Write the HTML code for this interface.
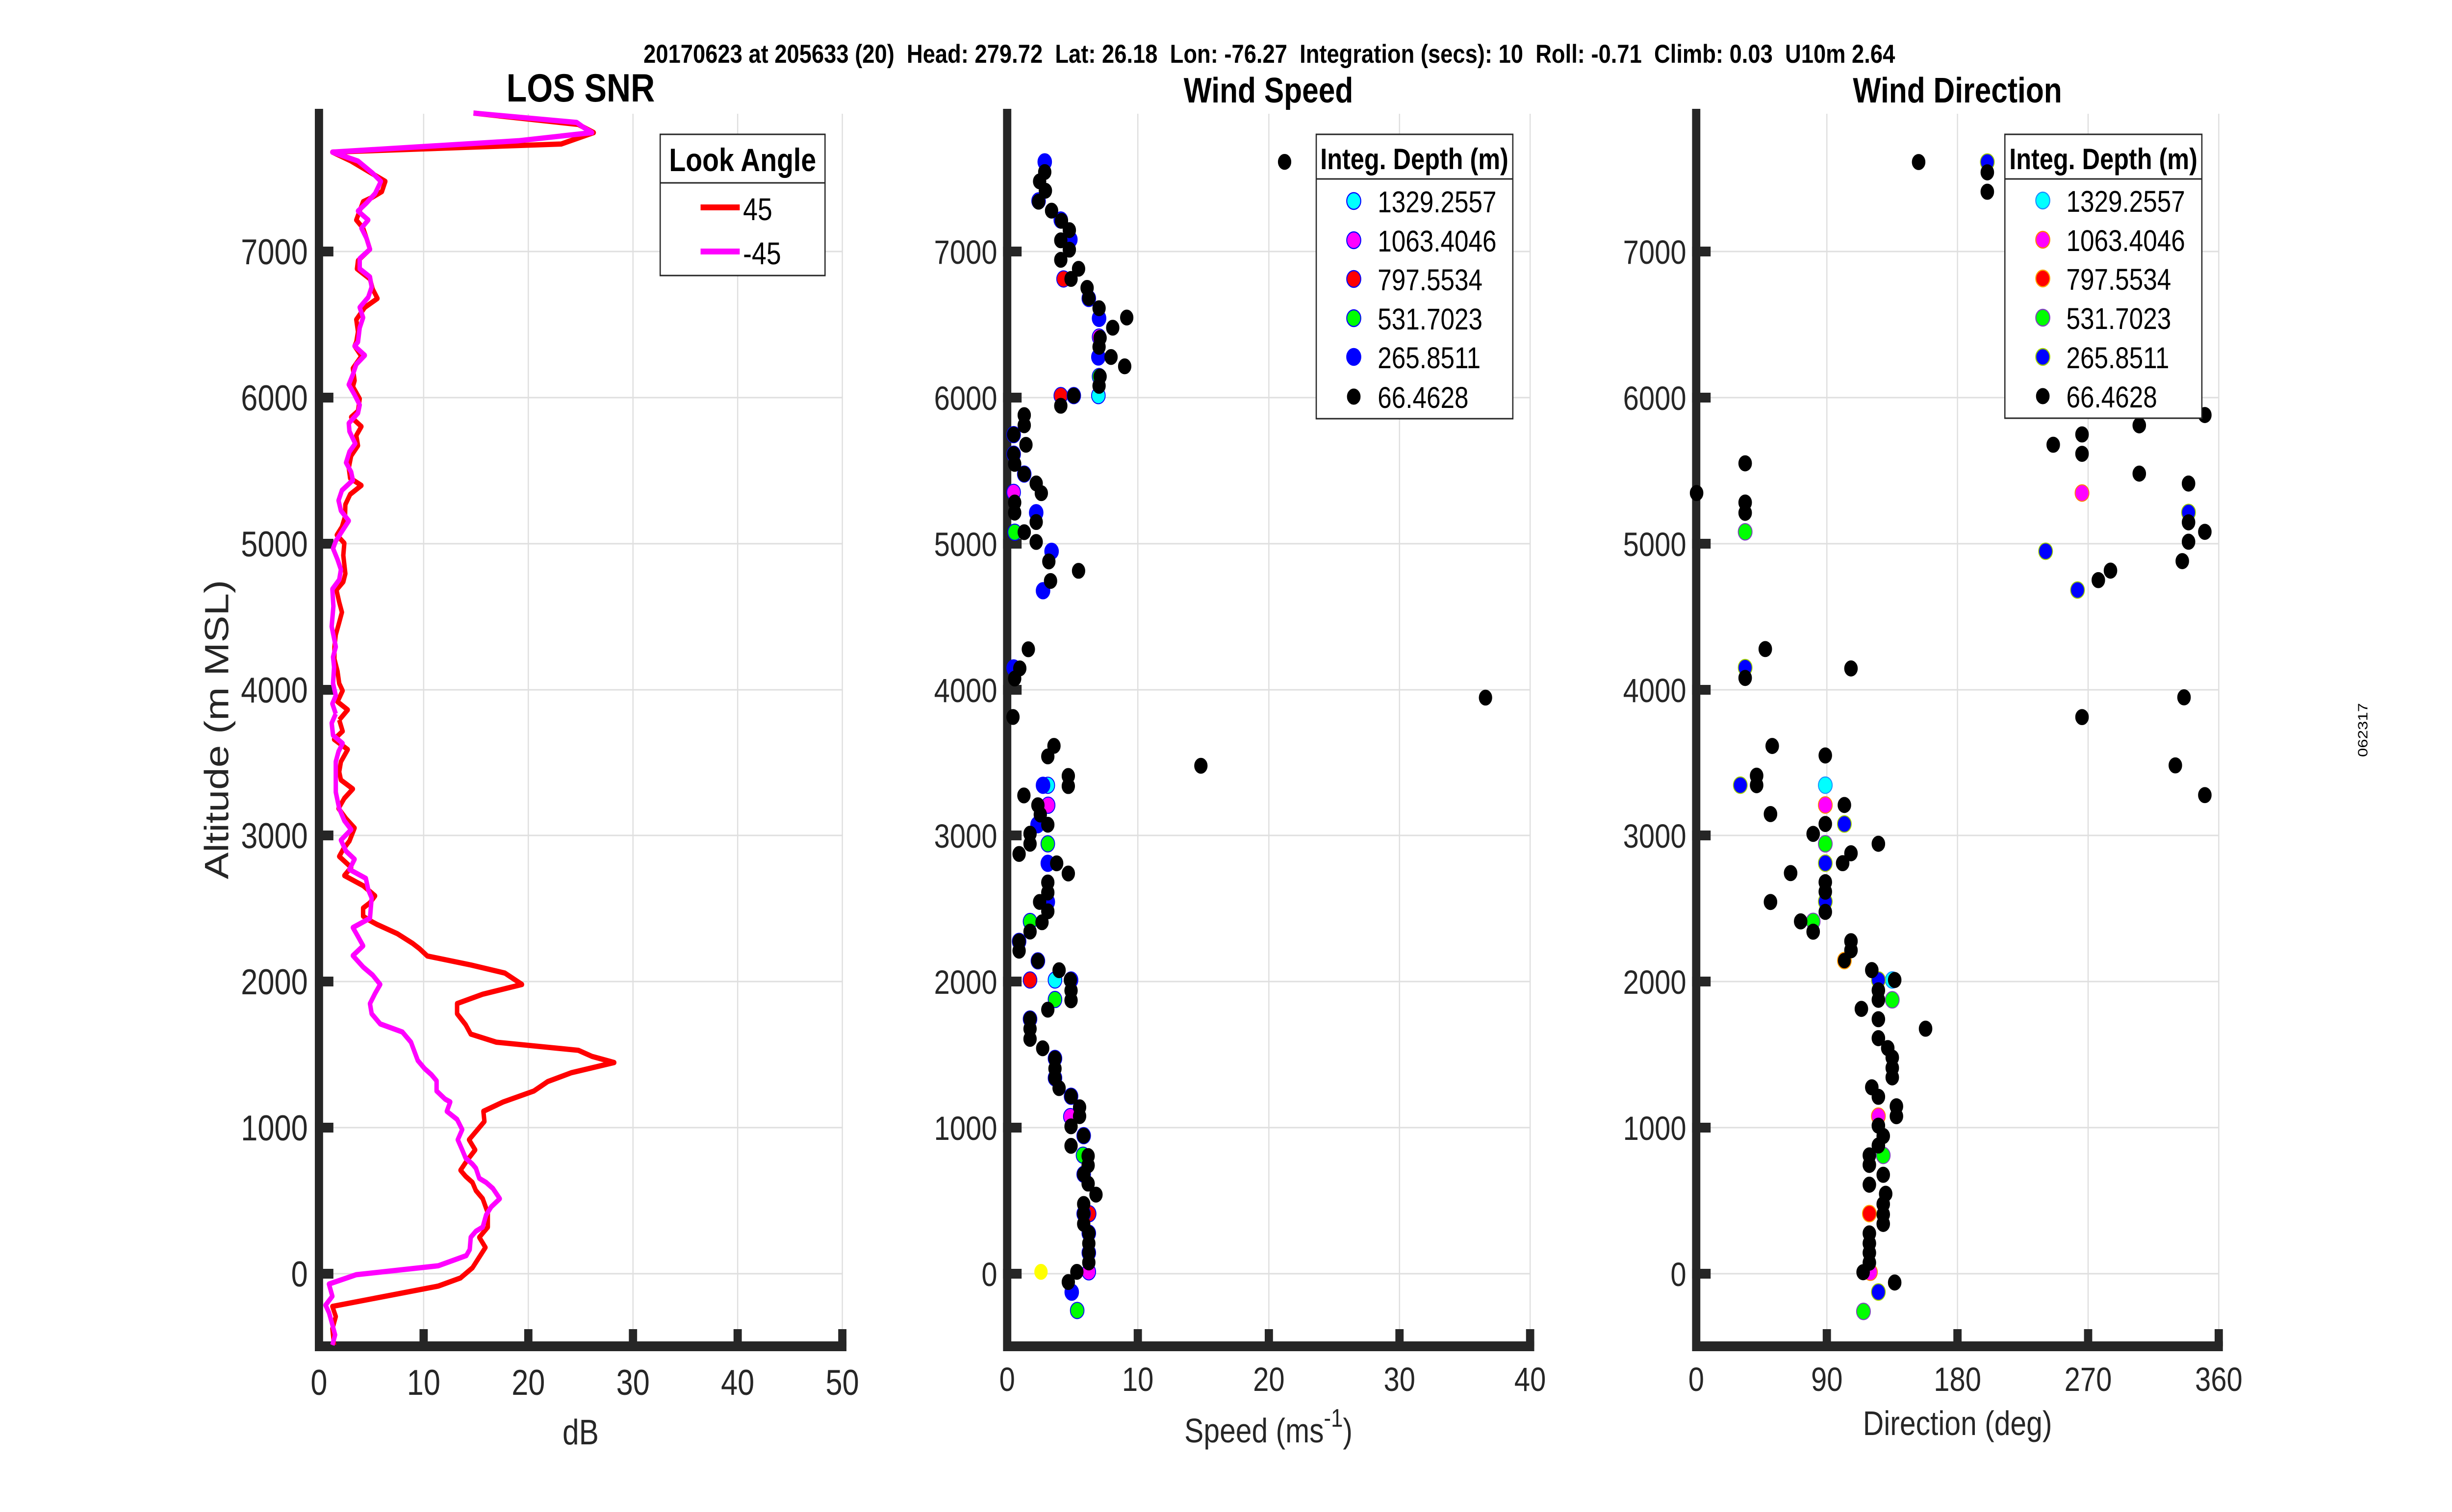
<!DOCTYPE html>
<html>
<head>
<meta charset="utf-8">
<style>
html,body{margin:0;padding:0;background:#fff;width:100%;height:100%;overflow:hidden;}
svg{display:block;width:100vw;height:100vh;}
text{font-family:"Liberation Sans",Arial,sans-serif;}
.k{fill:#000;stroke:#000;stroke-width:1;}
.p2 .c{fill:#00ffff;stroke:#0000ff;stroke-width:2.5;}
.p2 .m{fill:#ff00ff;stroke:#0000ff;stroke-width:2.5;}
.p2 .r{fill:#ff0000;stroke:#0000ff;stroke-width:2.5;}
.p2 .g{fill:#00ff00;stroke:#0000ff;stroke-width:2.5;}
.p2 .b{fill:#0000ff;stroke:#0000ff;stroke-width:2.5;}
.p2 .y{fill:#ffff00;stroke:#ffff00;stroke-width:1;}
.p3 .c{fill:#00ffff;stroke:#1a8cff;stroke-width:2.5;}
.p3 .m{fill:#ff00ff;stroke:#ff8000;stroke-width:2.5;}
.p3 .r{fill:#ff0000;stroke:#ffa500;stroke-width:2.5;}
.p3 .g{fill:#00ff00;stroke:#8040c0;stroke-width:2.5;}
.p3 .b{fill:#0000ff;stroke:#a0d000;stroke-width:2.5;}
</style>
</head>
<body>
<svg viewBox="0 0 5950 3084" preserveAspectRatio="none" xmlns="http://www.w3.org/2000/svg">
<rect width="5950" height="3084" fill="#fff"/>

<!-- GRID -->
<g stroke="#dfdfdf" stroke-width="3" fill="none">
<path d="M1028 232V2746M1282 232V2746M1536 232V2746M1790 232V2746M2044 232V2746M774 2598H2044M774 2300H2044M774 2002H2044M774 1704H2044M774 1407H2044M774 1109H2044M774 811H2044M774 513H2044"/>
<path d="M2761 232V2746M3079 232V2746M3396 232V2746M3713 232V2746M2444 2598H3713M2444 2300H3713M2444 2002H3713M2444 1704H3713M2444 1407H3713M2444 1109H3713M2444 811H3713M2444 513H3713"/>
<path d="M4433 232V2746M4750 232V2746M5067 232V2746M5384 232V2746M4116 2598H5384M4116 2300H5384M4116 2002H5384M4116 1704H5384M4116 1407H5384M4116 1109H5384M4116 811H5384M4116 513H5384"/>
</g>

<!-- AXES -->
<g stroke="#262626" stroke-width="20" fill="none">
<path d="M774 222V2756M764 2746H2054"/>
<path d="M764 2598H809M764 2300H809M764 2002H809M764 1704H809M764 1407H809M764 1109H809M764 811H809M764 513H809"/>
<path d="M1028 2711V2746M1282 2711V2746M1536 2711V2746M1790 2711V2746M2044 2711V2746"/>
<path d="M2444 222V2756M2434 2746H3723"/>
<path d="M2434 2598H2479M2434 2300H2479M2434 2002H2479M2434 1704H2479M2434 1407H2479M2434 1109H2479M2434 811H2479M2434 513H2479"/>
<path d="M2761 2711V2746M3079 2711V2746M3396 2711V2746M3713 2711V2746"/>
<path d="M4116 222V2756M4106 2746H5394"/>
<path d="M4106 2598H4151M4106 2300H4151M4106 2002H4151M4106 1704H4151M4106 1407H4151M4106 1109H4151M4106 811H4151M4106 513H4151"/>
<path d="M4433 2711V2746M4750 2711V2746M5067 2711V2746M5384 2711V2746"/>
</g>

<!-- TICK LABELS -->
<g fill="#262626" font-size="73" text-anchor="end">
<text x="747" y="2624">0</text><text x="747" y="2326">1000</text><text x="747" y="2028">2000</text><text x="747" y="1730">3000</text><text x="747" y="1433">4000</text><text x="747" y="1135">5000</text><text x="747" y="837">6000</text><text x="747" y="539">7000</text>
</g>
<g fill="#262626" font-size="73" text-anchor="middle">
<text x="774" y="2845">0</text><text x="1028" y="2845">10</text><text x="1282" y="2845">20</text><text x="1536" y="2845">30</text><text x="1790" y="2845">40</text><text x="2044" y="2845">50</text>
</g>
<g fill="#262626" font-size="69" text-anchor="end">
<text x="2420" y="2623">0</text><text x="2420" y="2325">1000</text><text x="2420" y="2027">2000</text><text x="2420" y="1729">3000</text><text x="2420" y="1432">4000</text><text x="2420" y="1134">5000</text><text x="2420" y="836">6000</text><text x="2420" y="538">7000</text>
<text x="4092" y="2623">0</text><text x="4092" y="2325">1000</text><text x="4092" y="2027">2000</text><text x="4092" y="1729">3000</text><text x="4092" y="1432">4000</text><text x="4092" y="1134">5000</text><text x="4092" y="836">6000</text><text x="4092" y="538">7000</text>
</g>
<g fill="#262626" font-size="69" text-anchor="middle">
<text x="2444" y="2837">0</text><text x="2761" y="2837">10</text><text x="3079" y="2837">20</text><text x="3396" y="2837">30</text><text x="3713" y="2837">40</text>
<text x="4116" y="2837">0</text><text x="4433" y="2837">90</text><text x="4750" y="2837">180</text><text x="5067" y="2837">270</text><text x="5384" y="2837">360</text>
</g>

<!-- AXIS LABELS -->
<text x="1409" y="2946" font-size="72" fill="#262626" text-anchor="middle">dB</text>
<text x="3078" y="2942" font-size="70" fill="#262626" text-anchor="middle">Speed (ms<tspan dy="-32" font-size="52">-1</tspan><tspan dy="32">)</tspan></text>
<text x="4750" y="2927" font-size="70" fill="#262626" text-anchor="middle">Direction (deg)</text>
<text transform="translate(554,1488) rotate(-90)" font-size="82" fill="#262626" text-anchor="middle">Altitude (m MSL)</text>
<text transform="translate(5745,1489) rotate(-90)" font-size="33" fill="#000" text-anchor="middle">062317</text>

<!-- TITLES -->
<text x="3080" y="128" font-size="53" font-weight="bold" text-anchor="middle" textLength="3037" lengthAdjust="spacingAndGlyphs" style="white-space:pre" xml:space="preserve">20170623 at 205633 (20)  Head: 279.72  Lat: 26.18  Lon: -76.27  Integration (secs): 10  Roll: -0.71  Climb: 0.03  U10m 2.64</text>
<text x="1409" y="207" font-size="81" font-weight="bold" text-anchor="middle">LOS SNR</text>
<text x="3078" y="209" font-size="72" font-weight="bold" text-anchor="middle">Wind Speed</text>
<text x="4750" y="209" font-size="72" font-weight="bold" text-anchor="middle">Wind Direction</text>

<!-- PANEL 1 LINES -->
<g fill="none" stroke-width="13" stroke-linejoin="round">
<g transform="translate(450,200) scale(0.82912)">
<polyline stroke="#ff0000" points="843,37 1150,65 1195,85 1100,113 430,133 485,155 545,185 585,205 575,230 545,245 520,255 500,300 520,320 530,345 540,372 505,400 502,420 540,445 548,470 562,493 525,515 500,545 505,575 500,600 495,610 515,635 490,665 495,695 490,710 510,740 505,770 485,785 515,808 500,830 505,855 485,880 478,910 482,935 515,953 482,975 468,1000 467,1030 458,1055 443,1075 465,1095 462,1125 468,1170 462,1190 442,1210 450,1240 458,1265 450,1290 440,1320 436,1350 436,1380 445,1410 450,1440 460,1458 445,1485 475,1505 450,1530"/>
</g>
<g transform="translate(450,1450) scale(0.82912)">
<polyline stroke="#ff0000" points="450,22 460,50 435,70 475,95 455,125 450,150 455,170 490,192 465,215 448,240 470,265 495,288 480,320 462,340 450,358 472,375 485,385 465,405 520,430 555,455 540,472 520,485 520,505 538,515 560,525 620,548 665,572 685,585 708,603 835,625 935,645 985,673 870,697 795,720 795,745 820,772 835,795 910,815 1150,835 1190,850 1255,865 1130,890 1060,912 1020,935 930,962 872,985 875,1010 845,1040 830,1055 848,1080 825,1105 805,1130 820,1145 840,1160 850,1180 870,1200 885,1235 885,1270 860,1295 878,1320 840,1370 805,1395 740,1415 430,1465 440,1490 430,1520 435,1560"/>
</g>
<g transform="translate(450,200) scale(0.82912)">
<polyline stroke="#ff00ff" points="843,37 1145,60 1165,72 1190,85 975,105 430,133 505,155 548,185 572,205 555,235 530,258 505,278 535,300 515,320 530,345 540,372 510,395 510,420 540,440 545,465 535,490 510,515 520,540 510,565 505,600 495,610 525,633 500,655 490,680 478,705 495,730 510,755 505,775 478,800 480,820 497,850 480,870 470,897 485,920 490,940 458,965 448,990 455,1015 478,1040 455,1070 440,1090 432,1108 445,1135 455,1160 450,1185 430,1208 433,1250 428,1300 440,1350 432,1375 435,1400 432,1440 440,1470 430,1490 440,1515"/>
</g>
<g transform="translate(450,1450) scale(0.82912)">
<polyline stroke="#ff00ff" points="440,7 428,30 432,60 460,80 448,100 440,125 440,200 450,240 465,270 485,292 455,318 470,345 495,365 480,390 528,412 535,440 545,460 540,510 490,533 505,555 520,578 490,602 520,630 548,650 570,673 555,695 540,720 545,745 570,770 635,790 660,815 680,860 700,880 720,895 735,910 735,935 760,955 775,962 765,985 795,1005 810,1030 797,1055 810,1080 820,1100 840,1115 850,1125 860,1150 880,1160 900,1175 920,1200 895,1220 880,1240 870,1270 850,1280 835,1295 832,1325 822,1340 740,1365 500,1387 420,1410 430,1440 410,1462 420,1480 430,1510 438,1535 430,1560"/>
</g>
</g>

<!-- PANEL 2 SCATTER -->
<g class="p2">
<g transform="translate(2400,200) scale(0.82912)">
<circle class="c" cx="320" cy="732" r="20"/>
<circle class="m" cx="322" cy="588" r="20"/>
<circle class="m" cx="72" cy="970" r="20"/>
<circle class="r" cx="218" cy="445" r="20"/>
<circle class="r" cx="210" cy="732" r="20"/>
<circle class="g" cx="322" cy="685" r="20"/>
<circle class="g" cx="75" cy="1068" r="20"/>
<circle class="b" cx="163" cy="157" r="20"/>
<circle class="b" cx="145" cy="253" r="20"/>
<circle class="b" cx="210" cy="300" r="20"/>
<circle class="b" cx="238" cy="348" r="20"/>
<circle class="b" cx="292" cy="493" r="20"/>
<circle class="b" cx="322" cy="542" r="20"/>
<circle class="b" cx="320" cy="637" r="20"/>
<circle class="b" cx="248" cy="732" r="20"/>
<circle class="b" cx="72" cy="828" r="20"/>
<circle class="b" cx="72" cy="876" r="20"/>
<circle class="b" cx="103" cy="925" r="20"/>
<circle class="b" cx="138" cy="1020" r="20"/>
<circle class="b" cx="183" cy="1115" r="20"/>
<circle class="b" cx="158" cy="1212" r="20"/>
<circle class="b" cx="72" cy="1402" r="20"/>
<g class="k">
<circle cx="865" cy="157" r="19"/><circle cx="163" cy="182" r="19"/><circle cx="148" cy="205" r="19"/><circle cx="165" cy="228" r="19"/><circle cx="145" cy="255" r="19"/><circle cx="183" cy="277" r="19"/><circle cx="212" cy="302" r="19"/><circle cx="235" cy="325" r="19"/><circle cx="210" cy="350" r="19"/><circle cx="235" cy="373" r="19"/><circle cx="210" cy="398" r="19"/><circle cx="262" cy="420" r="19"/><circle cx="240" cy="445" r="19"/><circle cx="287" cy="467" r="19"/><circle cx="292" cy="492" r="19"/><circle cx="322" cy="517" r="19"/><circle cx="403" cy="540" r="19"/><circle cx="362" cy="565" r="19"/><circle cx="325" cy="590" r="19"/><circle cx="322" cy="612" r="19"/><circle cx="357" cy="637" r="19"/><circle cx="397" cy="660" r="19"/><circle cx="325" cy="685" r="19"/><circle cx="322" cy="708" r="19"/><circle cx="248" cy="732" r="19"/><circle cx="210" cy="757" r="19"/><circle cx="103" cy="780" r="19"/><circle cx="103" cy="805" r="19"/><circle cx="72" cy="828" r="19"/><circle cx="108" cy="853" r="19"/><circle cx="72" cy="876" r="19"/><circle cx="75" cy="900" r="19"/><circle cx="103" cy="925" r="19"/><circle cx="138" cy="948" r="19"/><circle cx="153" cy="972" r="19"/><circle cx="75" cy="995" r="19"/><circle cx="75" cy="1020" r="19"/><circle cx="138" cy="1043" r="19"/><circle cx="103" cy="1068" r="19"/><circle cx="138" cy="1092" r="19"/><circle cx="175" cy="1140" r="19"/><circle cx="262" cy="1163" r="19"/><circle cx="180" cy="1188" r="19"/><circle cx="115" cy="1356" r="19"/><circle cx="90" cy="1403" r="19"/><circle cx="75" cy="1428" r="19"/><circle cx="1453" cy="1475" r="19"/>
</g>
</g>
<g transform="translate(2400,1450) scale(0.82912)">
<circle class="c" cx="172" cy="183" r="20"/>
<circle class="c" cx="193" cy="662" r="20"/>
<circle class="m" cx="173" cy="232" r="20"/>
<circle class="m" cx="238" cy="998" r="20"/>
<circle class="m" cx="292" cy="1380" r="20"/>
<circle class="r" cx="120" cy="662" r="20"/>
<circle class="r" cx="293" cy="1237" r="20"/>
<circle class="g" cx="172" cy="327" r="20"/>
<circle class="g" cx="120" cy="518" r="20"/>
<circle class="g" cx="193" cy="710" r="20"/>
<circle class="g" cx="275" cy="1093" r="20"/>
<circle class="g" cx="258" cy="1475" r="20"/>
<circle class="b" cx="158" cy="183" r="20"/>
<circle class="b" cx="142" cy="280" r="20"/>
<circle class="b" cx="172" cy="375" r="20"/>
<circle class="b" cx="172" cy="470" r="20"/>
<circle class="b" cx="88" cy="567" r="20"/>
<circle class="b" cx="143" cy="615" r="20"/>
<circle class="b" cx="240" cy="662" r="20"/>
<circle class="b" cx="120" cy="758" r="20"/>
<circle class="b" cx="193" cy="855" r="20"/>
<circle class="b" cx="193" cy="903" r="20"/>
<circle class="b" cx="240" cy="948" r="20"/>
<circle class="b" cx="277" cy="1045" r="20"/>
<circle class="b" cx="277" cy="1140" r="20"/>
<circle class="b" cx="277" cy="1237" r="20"/>
<circle class="b" cx="292" cy="1285" r="20"/>
<circle class="b" cx="292" cy="1333" r="20"/>
<circle class="b" cx="242" cy="1430" r="20"/>
<circle class="y" cx="152" cy="1380" r="19"/>
<g class="k">
<circle cx="70" cy="15" r="19"/><circle cx="190" cy="86" r="19"/><circle cx="172" cy="112" r="19"/><circle cx="232" cy="160" r="19"/><circle cx="232" cy="185" r="19"/><circle cx="102" cy="208" r="19"/><circle cx="143" cy="232" r="19"/><circle cx="150" cy="255" r="19"/><circle cx="172" cy="280" r="19"/><circle cx="120" cy="302" r="19"/><circle cx="120" cy="327" r="19"/><circle cx="88" cy="352" r="19"/><circle cx="198" cy="375" r="19"/><circle cx="232" cy="400" r="19"/><circle cx="172" cy="422" r="19"/><circle cx="172" cy="447" r="19"/><circle cx="148" cy="470" r="19"/><circle cx="172" cy="493" r="19"/><circle cx="155" cy="520" r="19"/><circle cx="120" cy="543" r="19"/><circle cx="88" cy="567" r="19"/><circle cx="88" cy="590" r="19"/><circle cx="143" cy="615" r="19"/><circle cx="205" cy="638" r="19"/><circle cx="238" cy="662" r="19"/><circle cx="240" cy="688" r="19"/><circle cx="240" cy="712" r="19"/><circle cx="172" cy="735" r="19"/><circle cx="120" cy="758" r="19"/><circle cx="120" cy="782" r="19"/><circle cx="120" cy="807" r="19"/><circle cx="157" cy="830" r="19"/><circle cx="193" cy="855" r="19"/><circle cx="193" cy="880" r="19"/><circle cx="193" cy="903" r="19"/><circle cx="205" cy="928" r="19"/><circle cx="240" cy="948" r="19"/><circle cx="265" cy="975" r="19"/><circle cx="265" cy="997" r="19"/><circle cx="240" cy="1022" r="19"/><circle cx="277" cy="1045" r="19"/><circle cx="240" cy="1070" r="19"/><circle cx="290" cy="1095" r="19"/><circle cx="290" cy="1118" r="19"/><circle cx="277" cy="1140" r="19"/><circle cx="290" cy="1163" r="19"/><circle cx="313" cy="1190" r="19"/><circle cx="277" cy="1213" r="19"/><circle cx="277" cy="1237" r="19"/><circle cx="277" cy="1262" r="19"/><circle cx="292" cy="1285" r="19"/><circle cx="292" cy="1310" r="19"/><circle cx="292" cy="1333" r="19"/><circle cx="292" cy="1357" r="19"/><circle cx="257" cy="1380" r="19"/><circle cx="232" cy="1405" r="19"/><circle cx="620" cy="135" r="19"/>
</g>
</g>
</g>

<!-- PANEL 3 SCATTER -->
<g class="p3">
<g transform="translate(4090,200) scale(0.84184)">
<circle class="m" cx="1143" cy="957" r="20"/>
<circle class="g" cx="172" cy="1051" r="20"/>
<circle class="b" cx="870" cy="155" r="20"/>
<circle class="b" cx="1450" cy="1004" r="20"/>
<circle class="b" cx="1038" cy="1098" r="20"/>
<circle class="b" cx="1130" cy="1192" r="20"/>
<circle class="b" cx="172" cy="1380" r="20"/>
<g class="k">
<circle cx="672" cy="155" r="19"/><circle cx="870" cy="180" r="19"/><circle cx="870" cy="227" r="19"/><circle cx="1497" cy="768" r="19"/><circle cx="1308" cy="793" r="19"/><circle cx="1143" cy="815" r="19"/><circle cx="1060" cy="840" r="19"/><circle cx="1143" cy="862" r="19"/><circle cx="1308" cy="910" r="19"/><circle cx="1450" cy="934" r="19"/><circle cx="32" cy="957" r="19"/><circle cx="172" cy="885" r="19"/><circle cx="172" cy="980" r="19"/><circle cx="172" cy="1005" r="19"/><circle cx="1450" cy="1028" r="19"/><circle cx="1497" cy="1051" r="19"/><circle cx="1450" cy="1075" r="19"/><circle cx="1432" cy="1122" r="19"/><circle cx="1225" cy="1145" r="19"/><circle cx="1190" cy="1168" r="19"/><circle cx="230" cy="1335" r="19"/><circle cx="172" cy="1405" r="19"/><circle cx="477" cy="1382" r="19"/><circle cx="1437" cy="1452" r="19"/>
</g>
</g>
<g transform="translate(4090,1450) scale(0.84184)">
<circle class="c" cx="403" cy="180" r="20"/>
<circle class="c" cx="596" cy="652" r="20"/>
<circle class="m" cx="403" cy="228" r="20"/>
<circle class="m" cx="556" cy="982" r="20"/>
<circle class="m" cx="533" cy="1360" r="20"/>
<circle class="r" cx="458" cy="605" r="20"/>
<circle class="r" cx="530" cy="1218" r="20"/>
<circle class="g" cx="403" cy="322" r="20"/>
<circle class="g" cx="368" cy="510" r="20"/>
<circle class="g" cx="596" cy="700" r="20"/>
<circle class="g" cx="570" cy="1077" r="20"/>
<circle class="g" cx="513" cy="1455" r="20"/>
<circle class="b" cx="158" cy="180" r="20"/>
<circle class="b" cx="458" cy="274" r="20"/>
<circle class="b" cx="403" cy="369" r="20"/>
<circle class="b" cx="403" cy="462" r="20"/>
<circle class="b" cx="556" cy="652" r="20"/>
<circle class="b" cx="556" cy="1408" r="20"/>
<g class="k">
<circle cx="1143" cy="15" r="19"/><circle cx="250" cy="85" r="19"/><circle cx="403" cy="108" r="19"/><circle cx="1412" cy="132" r="19"/><circle cx="205" cy="157" r="19"/><circle cx="205" cy="180" r="19"/><circle cx="1497" cy="204" r="19"/><circle cx="458" cy="228" r="19"/><circle cx="245" cy="250" r="19"/><circle cx="403" cy="274" r="19"/><circle cx="368" cy="298" r="19"/><circle cx="556" cy="322" r="19"/><circle cx="477" cy="345" r="19"/><circle cx="453" cy="369" r="19"/><circle cx="303" cy="393" r="19"/><circle cx="403" cy="415" r="19"/><circle cx="403" cy="438" r="19"/><circle cx="245" cy="463" r="19"/><circle cx="403" cy="487" r="19"/><circle cx="332" cy="510" r="19"/><circle cx="368" cy="535" r="19"/><circle cx="477" cy="558" r="19"/><circle cx="477" cy="580" r="19"/><circle cx="458" cy="605" r="18"/><circle cx="537" cy="628" r="19"/><circle cx="603" cy="652" r="19"/><circle cx="556" cy="677" r="19"/><circle cx="556" cy="700" r="19"/><circle cx="507" cy="722" r="19"/><circle cx="556" cy="747" r="19"/><circle cx="692" cy="770" r="19"/><circle cx="556" cy="793" r="19"/><circle cx="583" cy="817" r="19"/><circle cx="596" cy="840" r="19"/><circle cx="596" cy="865" r="19"/><circle cx="596" cy="888" r="19"/><circle cx="537" cy="912" r="19"/><circle cx="556" cy="935" r="19"/><circle cx="608" cy="958" r="19"/><circle cx="608" cy="982" r="19"/><circle cx="556" cy="1005" r="19"/><circle cx="570" cy="1030" r="19"/><circle cx="556" cy="1053" r="19"/><circle cx="530" cy="1077" r="19"/><circle cx="530" cy="1100" r="19"/><circle cx="570" cy="1124" r="19"/><circle cx="530" cy="1148" r="19"/><circle cx="577" cy="1170" r="19"/><circle cx="570" cy="1195" r="19"/><circle cx="570" cy="1220" r="19"/><circle cx="570" cy="1243" r="19"/><circle cx="530" cy="1266" r="19"/><circle cx="530" cy="1290" r="19"/><circle cx="530" cy="1313" r="19"/><circle cx="530" cy="1337" r="19"/><circle cx="512" cy="1360" r="19"/><circle cx="603" cy="1385" r="19"/>
</g>
</g>
</g>

<!-- LEGEND 1 -->
<rect x="1602" y="274" width="400" height="288" fill="#fff" stroke="#262626" stroke-width="3"/>
<line x1="1602" y1="373" x2="2002" y2="373" stroke="#262626" stroke-width="3"/>
<text x="1802" y="349" font-size="66" font-weight="bold" text-anchor="middle">Look Angle</text>
<line x1="1700" y1="423" x2="1795" y2="423" stroke="#ff0000" stroke-width="12"/>
<line x1="1700" y1="513" x2="1795" y2="513" stroke="#ff00ff" stroke-width="12"/>
<text x="1803" y="449" font-size="64">45</text>
<text x="1803" y="539" font-size="64">-45</text>

<!-- LEGEND 2 -->
<g class="p2">
<rect x="3194" y="274" width="477" height="580" fill="#fff" stroke="#262626" stroke-width="3"/>
<line x1="3194" y1="365" x2="3671" y2="365" stroke="#262626" stroke-width="3"/>
<text x="3432" y="345" font-size="60" font-weight="bold" text-anchor="middle">Integ. Depth (m)</text>
<circle class="c" cx="3285" cy="410" r="17"/>
<circle class="m" cx="3285" cy="490" r="17"/>
<circle class="r" cx="3285" cy="569" r="17"/>
<circle class="g" cx="3285" cy="649" r="17"/>
<circle class="b" cx="3285" cy="728" r="17"/>
<circle class="k" cx="3285" cy="809" r="16"/>
<g font-size="61">
<text x="3343" y="433">1329.2557</text>
<text x="3343" y="513">1063.4046</text>
<text x="3343" y="592">797.5534</text>
<text x="3343" y="672">531.7023</text>
<text x="3343" y="751">265.8511</text>
<text x="3343" y="832">66.4628</text>
</g>
</g>

<!-- LEGEND 3 -->
<g class="p3">
<rect x="4865" y="274" width="478" height="579" fill="#fff" stroke="#262626" stroke-width="3"/>
<line x1="4865" y1="365" x2="5343" y2="365" stroke="#262626" stroke-width="3"/>
<text x="5104" y="345" font-size="60" font-weight="bold" text-anchor="middle">Integ. Depth (m)</text>
<circle class="c" cx="4957" cy="409" r="17"/>
<circle class="m" cx="4957" cy="489" r="17"/>
<circle class="r" cx="4957" cy="568" r="17"/>
<circle class="g" cx="4957" cy="648" r="17"/>
<circle class="b" cx="4957" cy="728" r="17"/>
<circle class="k" cx="4957" cy="808" r="16"/>
<g font-size="61">
<text x="5014" y="432">1329.2557</text>
<text x="5014" y="512">1063.4046</text>
<text x="5014" y="591">797.5534</text>
<text x="5014" y="671">531.7023</text>
<text x="5014" y="751">265.8511</text>
<text x="5014" y="831">66.4628</text>
</g>
</g>

</svg>
</body>
</html>
